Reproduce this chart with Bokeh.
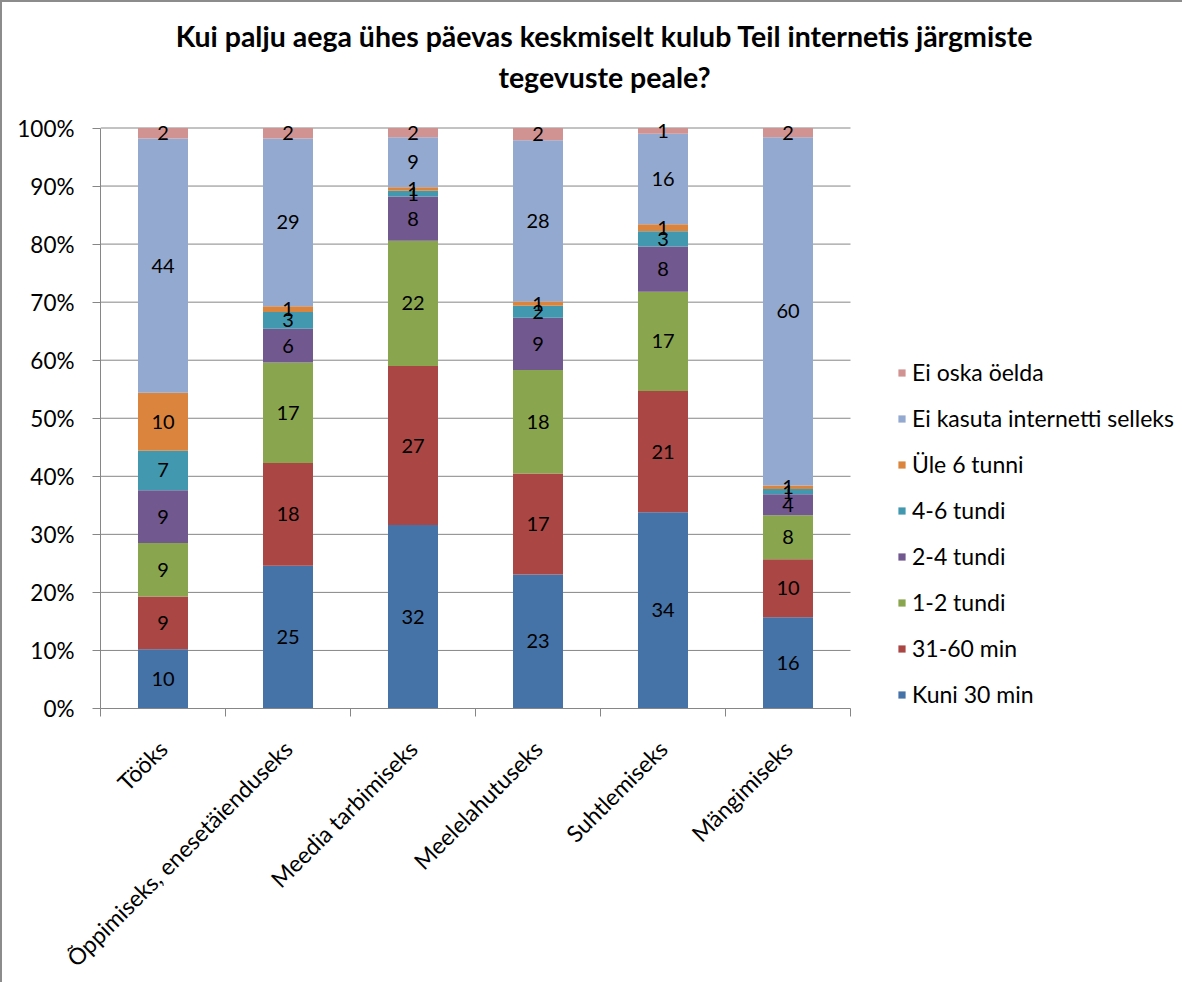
import math
from bokeh.plotting import figure
from bokeh.models import (ColumnDataSource, FixedTicker, PrintfTickFormatter, Legend,
                          LegendItem, Label, Range1d)
from bokeh.core.properties import value
from bokeh.embed import file_html
from bokeh.resources import INLINE

# ---------------- data ----------------
categories = ["Tööks", "Õppimiseks, enesetäienduseks", "Meedia tarbimiseks",
              "Meelelahutuseks", "Suhtlemiseks", "Mängimiseks"]
series_names = ["Kuni 30 min", "31-60 min", "1-2 tundi", "2-4 tundi", "4-6 tundi",
                "Üle 6 tunni", "Ei kasuta internetti selleks", "Ei oska öelda"]
colors = ["#4572A7", "#AA4643", "#89A54E", "#71588F", "#4198AF",
          "#DB843D", "#93A9CF", "#D19392"]

kuni_30_min = [10.2, 24.6, 31.6, 23.1, 33.8, 15.7]
min_31_60 = [9.1, 17.7, 27.4, 17.4, 20.9, 10.0]
tundi_1_2 = [9.2, 17.3, 21.6, 17.8, 17.1, 7.6]
tundi_2_4 = [9.1, 5.8, 7.6, 9.0, 7.8, 3.6]
tundi_4_6 = [6.8, 2.9, 1.0, 2.1, 2.6, 0.9]
ule_6_tunni = [10.0, 1.0, 0.6, 0.7, 1.2, 0.6]
ei_kasuta = [43.8, 28.9, 8.6, 27.8, 15.6, 60.0]
ei_oska = [1.8, 1.8, 1.6, 2.1, 1.0, 1.6]

y_ticks = [0, 10, 20, 30, 40, 50, 60, 70, 80, 90, 100]

title_lines = ["Kui palju aega ühes päevas keskmiselt kulub Teil internetis järgmiste",
               "tegevuste peale?"]

series_values = [kuni_30_min, min_31_60, tundi_1_2, tundi_2_4, tundi_4_6,
                 ule_6_tunni, ei_kasuta, ei_oska]

# ---------------- derived (100 % stacking) ----------------
n = len(categories)
centers = [i + 0.5 for i in range(n)]
boundaries = [float(i) for i in range(n + 1)]
totals = [sum(s[i] for s in series_values) for i in range(n)]
keys = [f"s{k}" for k in range(len(series_values))]
data = {"x": centers}
for k, s in zip(keys, series_values):
    data[k] = [100.0 * s[i] / totals[i] for i in range(n)]
source = ColumnDataSource(data)

FONT = "Lato"
GRAY = "#868686"

# layout: the frame covers the plot area plus the legend / title space;
# the axes are bounded to the real plot area.
W, H = 1182, 982
LEFT, BOTTOM = 98, 262
PX_PER_CAT = 125.0
PX_PER_PCT = 5.92
frame_w = W - LEFT
frame_h = H - BOTTOM

p = figure(width=W, height=H,
           x_range=Range1d(0, frame_w / PX_PER_CAT),
           y_range=Range1d(0, frame_h / PX_PER_PCT),
           output_backend="svg", toolbar_location=None,
           min_border_left=LEFT, min_border_right=0, min_border_top=0,
           min_border_bottom=BOTTOM)
p.styles = {"border-left": "2px solid #8c8c8c", "border-top": "2px solid #8c8c8c"}
p.outline_line_color = None
p.background_fill_color = "white"
p.border_fill_color = "white"
p.xgrid.visible = False
p.ygrid.visible = False

# horizontal gridlines over the plot area only
p.segment(x0=[0] * len(y_ticks), x1=[n] * len(y_ticks), y0=y_ticks, y1=y_ticks,
          line_color=GRAY, line_width=1)

renderers = p.vbar_stack(keys, x="x", width=0.4, source=source, color=colors,
                         line_color=None)

# data labels
lab_x, lab_y, lab_t = [], [], []
for i in range(n):
    cum = 0.0
    for k, s in zip(keys, series_values):
        h = data[k][i]
        lab_x.append(centers[i])
        lab_y.append(cum + h / 2)
        lab_t.append(str(int(round(s[i]))))
        cum += h
p.text(x=lab_x, y=lab_y, text=lab_t, text_align="center", text_baseline="middle",
       text_font=value(FONT), text_font_size="20px", text_color="#000000")

# y axis
p.yaxis.bounds = (0, 100)
p.yaxis.ticker = FixedTicker(ticks=y_ticks)
p.yaxis.formatter = PrintfTickFormatter(format="%d%%")
p.yaxis.axis_line_color = GRAY
p.yaxis.major_tick_line_color = GRAY
p.yaxis.major_tick_out = 8
p.yaxis.major_tick_in = 0
p.yaxis.minor_tick_out = 0
p.yaxis.minor_tick_in = 0
p.yaxis.major_label_text_font = FONT
p.yaxis.major_label_text_font_size = "22.5px"
p.yaxis.major_label_text_color = "black"
p.yaxis.major_label_standoff = 18

# x axis: labels at category centres, ticks at category boundaries
p.xaxis.bounds = (0, n)
p.xaxis.ticker = FixedTicker(ticks=centers, minor_ticks=boundaries)
p.xaxis.major_label_overrides = {c: name for c, name in zip(centers, categories)}
p.xaxis.axis_line_color = GRAY
p.xaxis.major_tick_out = 0
p.xaxis.major_tick_in = 0
p.xaxis.minor_tick_line_color = GRAY
p.xaxis.minor_tick_out = 8
p.xaxis.minor_tick_in = 0
p.xaxis.major_label_orientation = math.pi / 4
p.xaxis.major_label_text_font = FONT
p.xaxis.major_label_text_font_size = "23px"
p.xaxis.major_label_text_color = "black"
p.xaxis.major_label_standoff = 28

# legend (inside the enlarged frame, right of the bars)
items = [LegendItem(label=name, renderers=[r])
         for name, r in reversed(list(zip(series_names, renderers)))]
legend = Legend(items=items, location=(797, 0), border_line_color=None,
                background_fill_alpha=0, padding=0, margin=0, spacing=18,
                glyph_height=9, glyph_width=9, label_height=20, label_standoff=6,
                label_text_font=FONT, label_text_font_size="23px",
                label_text_color="black")
p.add_layout(legend)

# title (two centred lines)
for txt, yy in zip(title_lines, [673, 632]):
    p.add_layout(Label(x=504, y=yy, x_units="screen", y_units="screen", text=txt,
                       text_align="center", text_baseline="middle",
                       text_font=FONT, text_font_style="bold",
                       text_font_size="28.5px", text_color="black"))

open("out.html", "w").write(file_html(p, INLINE))
